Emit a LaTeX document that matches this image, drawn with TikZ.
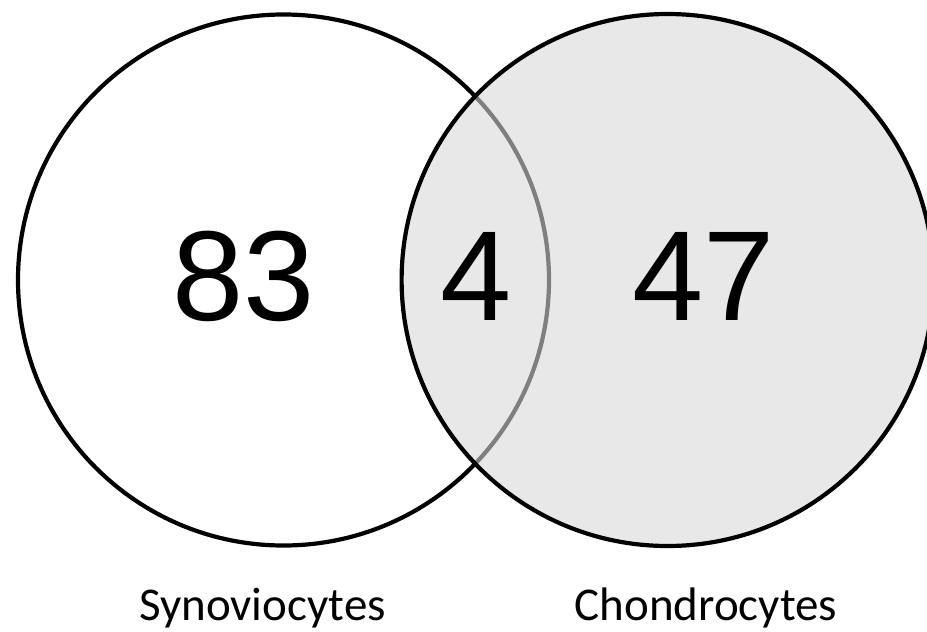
\documentclass[tikz,border=0pt]{standalone}
\usepackage{fontspec}
\newfontfamily\numfont{Liberation Sans}
\newfontfamily\labelfont{Carlito}
\begin{document}
\begin{tikzpicture}[x=1pt,y=-1pt,
  setcircle/.style={draw=black,line width=4.2pt},
  countlabel/.style={anchor=base,inner sep=0pt,font=\numfont\fontsize{128}{128}\selectfont},
  setname/.style={anchor=base,inner sep=0pt,font=\labelfont\fontsize{47}{47}\selectfont}]
  \useasboundingbox (0,0) rectangle (927,632);
  \begin{scope}
    \clip (0,0) rectangle (927,632);
    % Synoviocytes set
    \node[setcircle,circle,minimum size=531pt,inner sep=0pt] (syn) at (283.5,280) {};
    % Chondrocytes set, shaded and laid over the first one
    \node[setcircle,circle,minimum size=532pt,inner sep=0pt,
          fill={rgb,255:red,216;green,216;blue,216},fill opacity=0.59] (cho) at (667.6,280) {};
  \end{scope}
  \node[countlabel] (n83) at (244,320) {83};
  \node[countlabel] (n4) at (476.5,320) {4};
  \node[countlabel] (n47) at (704,320) {47};
  \node[setname] (synname) at (262.5,620.5) {Synoviocytes};
  \node[setname] (choname) at (706,620.5) {Chondrocytes};
\end{tikzpicture}
\end{document}
